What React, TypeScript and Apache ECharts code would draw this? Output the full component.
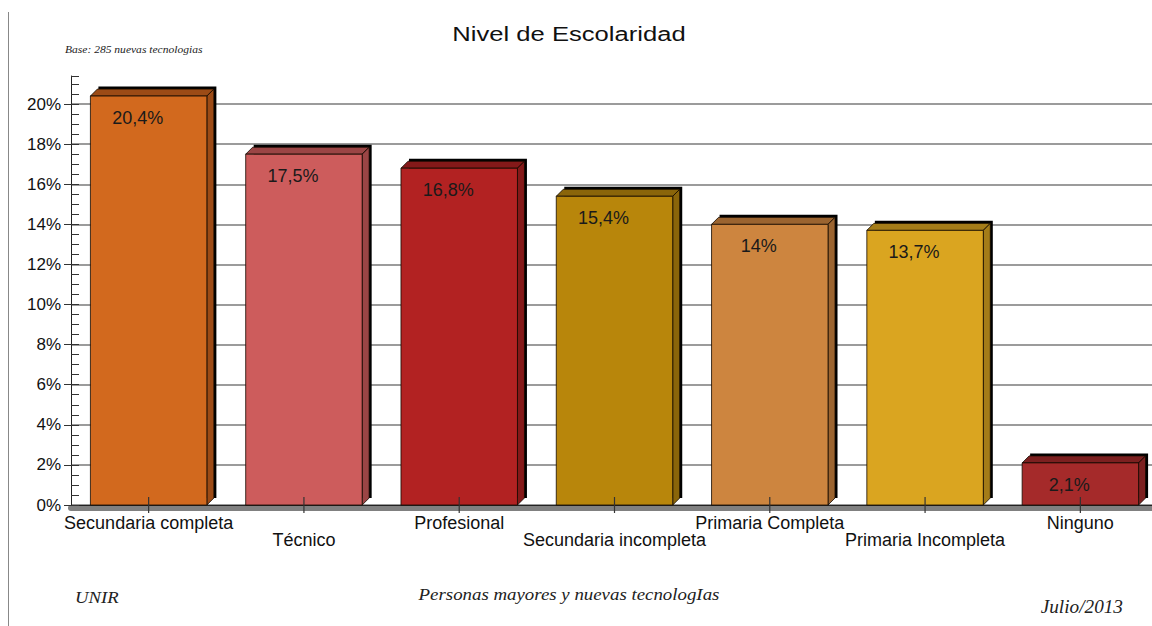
import React, { useEffect, useRef } from "react";
import * as echarts from "echarts";

const categories = [
  "Secundaria completa",
  "Técnico",
  "Profesional",
  "Secundaria incompleta",
  "Primaria Completa",
  "Primaria Incompleta",
  "Ninguno",
];
const values = [20.4, 17.5, 16.8, 15.4, 14, 13.7, 2.1];
const valueLabels = ["20,4%", "17,5%", "16,8%", "15,4%", "14%", "13,7%", "2,1%"];
const frontColors = ["#D2691E", "#CD5C5C", "#B22222", "#B8860B", "#CD853F", "#DAA520", "#A52A2A"];
const sideColors = ["#9C4B16", "#9B4545", "#841919", "#8A650A", "#9B6430", "#A47C18", "#7C2020"];
const yTicks = [0, 2, 4, 6, 8, 10, 12, 14, 16, 18, 20];

const FONT = "'Liberation Sans', Arial, sans-serif";
const SERIF = "'Liberation Serif', 'Times New Roman', serif";

export default function App() {
  const ref = useRef<HTMLDivElement>(null);
  useEffect(() => {
    if (!ref.current) return;
    const chart = echarts.init(ref.current, undefined, { renderer: "svg" });
    const option: any = {
      animation: false,
      backgroundColor: "#ffffff",
      grid: { left: 71, top: 76, right: 2, bottom: 121 },
      xAxis: [
        {
          type: "category",
          data: categories,
          offset: 3,
          axisLine: { show: true, onZero: false, lineStyle: { color: "#808080", width: 6 } },
          axisTick: { show: false },
          axisLabel: {
            interval: 0,
            margin: 6,
            fontFamily: FONT,
            fontSize: 18,
            lineHeight: 17,
            color: "#111",
            formatter: (v: string, i: number) => (i % 2 ? "\n" + v : v),
          },
          splitLine: { show: false },
        },
        {
          type: "category",
          data: categories,
          position: "top",
          axisLine: { show: true, lineStyle: { color: "#222", width: 1 } },
          axisTick: { show: false },
          axisLabel: { show: false },
        },
      ],
      yAxis: [
        {
          type: "value",
          min: 0,
          max: 21.4,
          interval: 2,
          axisLine: { show: true, lineStyle: { color: "#222", width: 1 } },
          axisTick: { show: true, length: 7, lineStyle: { color: "#333" }, customValues: yTicks },
          axisLabel: {
            fontFamily: FONT,
            fontSize: 17,
            color: "#111",
            margin: 10,
            customValues: yTicks,
            formatter: (v: number) => v + "%",
          },
          splitLine: { show: true, lineStyle: { color: "#7a7a7a", width: 1.5 } },
        },
        {
          type: "value",
          min: 0,
          max: 21.4,
          interval: 0.5,
          position: "left",
          axisLine: { show: false },
          axisTick: { show: true, inside: true, length: 8, lineStyle: { color: "#333" } },
          axisLabel: { show: false },
          splitLine: { show: false },
        },
      ],
      graphic: [
        {
          type: "line",
          shape: { x1: 8.5, y1: 12, x2: 8.5, y2: 626 },
          style: { stroke: "#888", lineWidth: 1 },
        },
        {
          type: "text",
          x: 569,
          y: 34,
          scaleX: 1.28,
          style: {
            text: "Nivel de Escolaridad",
            fontFamily: FONT,
            fontSize: 20,
            fill: "#111",
            textAlign: "center",
            textVerticalAlign: "middle",
          },
        },
        {
          type: "text",
          x: 65,
          y: 49,
          scaleX: 1.05,
          style: {
            text: "Base: 285 nuevas tecnologias",
            fontFamily: SERIF,
            fontStyle: "italic",
            fontSize: 11,
            fill: "#222",
            textAlign: "left",
            textVerticalAlign: "middle",
          },
        },
        {
          type: "text",
          x: 75,
          y: 597,
          scaleX: 1.1,
          style: {
            text: "UNIR",
            fontFamily: SERIF,
            fontStyle: "italic",
            fontSize: 17,
            fill: "#222",
            textAlign: "left",
            textVerticalAlign: "middle",
          },
        },
        {
          type: "text",
          x: 569,
          y: 594,
          scaleX: 1.11,
          style: {
            text: "Personas mayores y nuevas tecnologIas",
            fontFamily: SERIF,
            fontStyle: "italic",
            fontSize: 17,
            fill: "#222",
            textAlign: "center",
            textVerticalAlign: "middle",
          },
        },
        {
          type: "text",
          x: 1123,
          y: 607,
          scaleX: 1.07,
          style: {
            text: "Julio/2013",
            fontFamily: SERIF,
            fontStyle: "italic",
            fontSize: 18,
            fill: "#222",
            textAlign: "right",
            textVerticalAlign: "middle",
          },
        },
      ],
      series: [
        {
          type: "custom",
          xAxisIndex: 0,
          yAxisIndex: 0,
          clip: false,
          encode: { x: 0, y: 1 },
          data: values.map((v, i) => [i, v]),
          renderItem: (params: any, api: any) => {
            const i = api.value(0);
            const v = api.value(1);
            const base = api.coord([i, 0]);
            const top = api.coord([i, v]);
            const band = api.size([1, 0])[0];
            const w = band * 0.75;
            const cx = base[0];
            const l = cx - w / 2;
            const r = cx + w / 2;
            const t = top[1];
            const b = base[1];
            const dx = 7;
            const dy = 7;
            const s = 2.5;
            const edge = "rgba(20,10,0,0.8)";
            return {
              type: "group",
              children: [
                {
                  type: "rect",
                  shape: { x: l + dx + 1, y: t - dy - s, width: r - l + s - 1, height: b - t + s },
                  style: { fill: "#000" },
                },
                {
                  type: "polygon",
                  shape: { points: [[l, t], [l + dx, t - dy], [r + dx, t - dy], [r, t]] },
                  style: { fill: sideColors[i], stroke: edge, lineWidth: 1 },
                },
                {
                  type: "polygon",
                  shape: { points: [[r, t], [r + dx, t - dy], [r + dx, b - dy], [r, b]] },
                  style: { fill: sideColors[i], stroke: edge, lineWidth: 1 },
                },
                {
                  type: "rect",
                  shape: { x: l, y: t, width: w, height: b - t },
                  style: { fill: frontColors[i], stroke: edge, lineWidth: 1 },
                },
                {
                  type: "line",
                  shape: { x1: cx, y1: b - 8, x2: cx, y2: b + 8 },
                  style: { stroke: "#333", lineWidth: 1.2 },
                },
                {
                  type: "text",
                  x: cx - 11,
                  y: t + 22,
                  style: {
                    text: valueLabels[i],
                    fontFamily: FONT,
                    fontSize: 18,
                    fill: "#1a1a1a",
                    textAlign: "center",
                    textVerticalAlign: "middle",
                  },
                },
              ],
            };
          },
        },
      ],
    };
    chart.setOption(option);
    return () => chart.dispose();
  }, []);
  return (
    <div style={{ position: "fixed", left: 0, top: 0, width: 1152, height: 626, overflow: "hidden", background: "#fff" }}>
      <div ref={ref} style={{ width: 1160, height: 626 }} />
    </div>
  );
}
